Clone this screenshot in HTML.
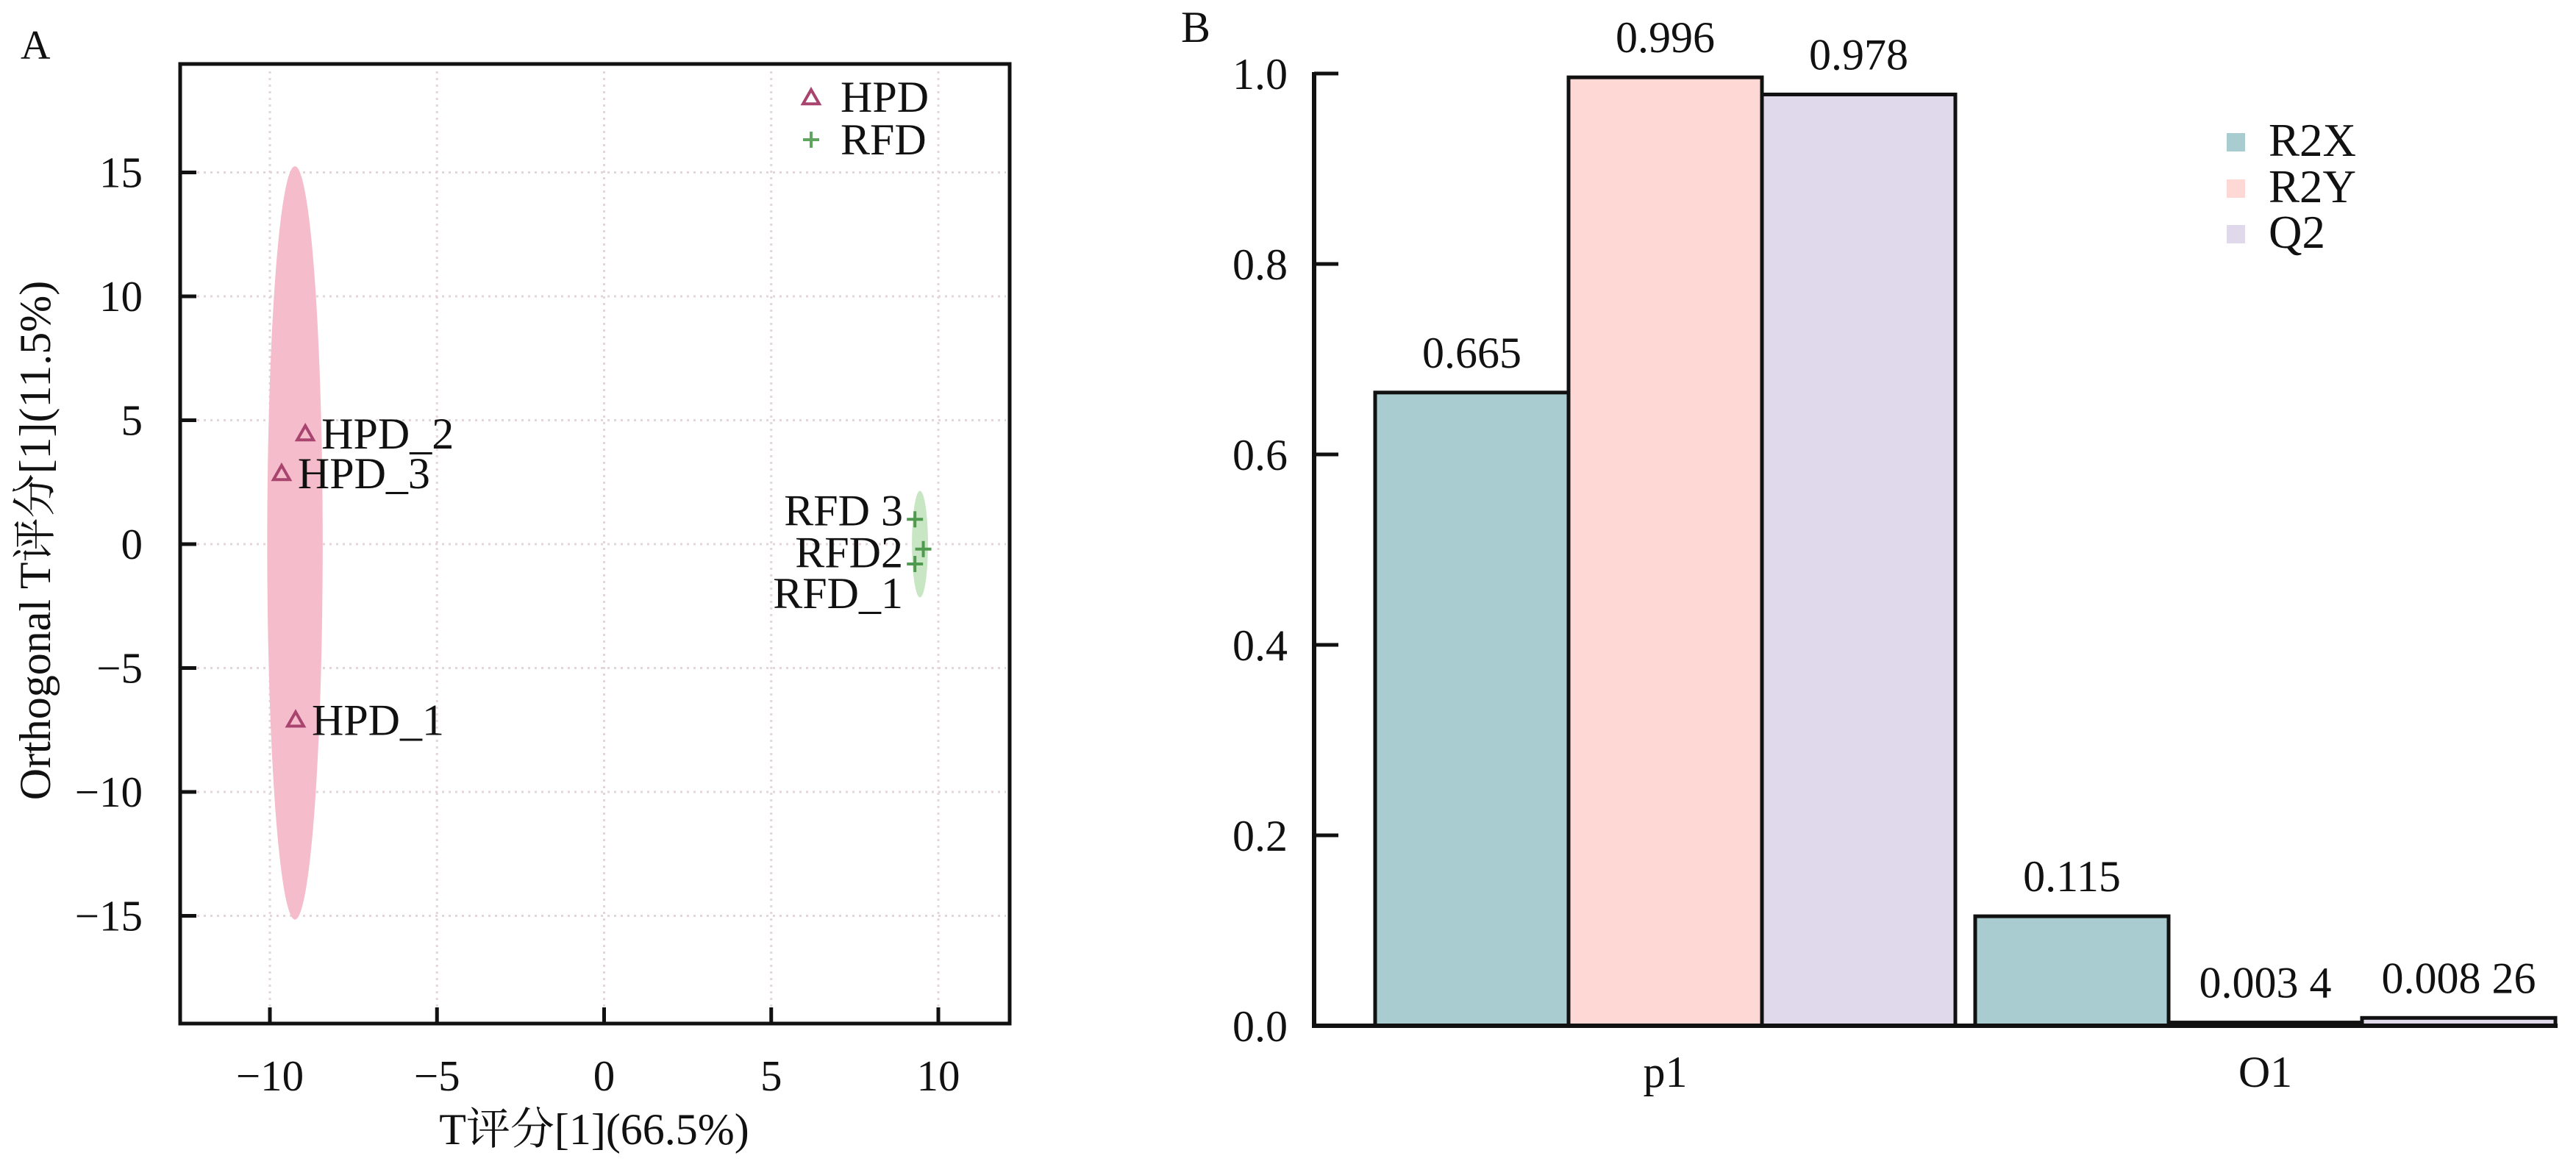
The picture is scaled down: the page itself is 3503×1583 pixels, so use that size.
<!DOCTYPE html>
<html><head><meta charset="utf-8"><style>
html,body{margin:0;padding:0;background:#fff;}
svg{display:block;font-family:"Liberation Serif","Noto Serif CJK SC","Noto Sans CJK SC",serif;}
</style></head><body>
<svg id="fig" width="3503" height="1583" viewBox="0 0 3503 1583" xmlns="http://www.w3.org/2000/svg">
<g id="panelA"></g>
<g id="panelB"></g>
</svg>
<script>
// ---------- Panel A data ----------
const aXTicks = [-10, -5, 0, 5, 10];
const aYTicks = [15, 10, 5, 0, -5, -10, -15];
const hpdNames = ["HPD_2", "HPD_3", "HPD_1"];
const hpdX = [-8.94, -9.65, -9.23];
const hpdY = [4.45, 2.85, -7.1];
const rfdNames = ["RFD 3", "RFD2", "RFD_1"];
const rfdX = [9.3, 9.55, 9.3];
const rfdY = [1.0, -0.2, -0.8];
const hpdEllipse = [-9.25, 0.05, 0.83, 15.2]; // cx, cy, rx, ry (data units)
const rfdEllipse = [9.45, 0.0, 0.24, 2.15];

// ---------- Panel B data ----------
const bCategories = ["p1", "O1"];
const bSeries = ["R2X", "R2Y", "Q2"];
const r2xValues = [0.665, 0.115];
const r2yValues = [0.996, 0.0034];
const q2Values = [0.978, 0.00826];
const bValueLabels = [["0.665", "0.996", "0.978"], ["0.115", "0.003 4", "0.008 26"]];
const bYTicks = [0.0, 0.2, 0.4, 0.6, 0.8, 1.0];
const bYTickLabels = ["0.0", "0.2", "0.4", "0.6", "0.8", "1.0"];

const NS = "http://www.w3.org/2000/svg";
function mk(parent, tag, attrs, text) {
  const e = document.createElementNS(NS, tag);
  for (const k in attrs) e.setAttribute(k, attrs[k]);
  if (text !== undefined) e.textContent = text;
  parent.appendChild(e);
  return e;
}

// ===== Panel A =====
const A = document.getElementById("panelA");
const ax = v => 821.5 + v * 45.45;
const ay = v => 740 - v * 33.7;
const boxL = 245, boxR = 1373, boxT = 87, boxB = 1392;

let t = mk(A, "text", {x: 28, y: 80, "font-size": 56, fill: "#111"}, "A");



// grid
aXTicks.forEach(v => {
  const g = mk(A, "line", {x1: ax(v), x2: ax(v), y1: boxT + 10, y2: boxB - 5, stroke: "#e4d6d8", "stroke-width": 3, "stroke-dasharray": "3 6"});
  
  
});
aYTicks.forEach(v => {
  const g = mk(A, "line", {x1: boxL + 5, x2: boxR - 5, y1: ay(v), y2: ay(v), stroke: "#e4d6d8", "stroke-width": 3, "stroke-dasharray": "3 6"});
  
  
});

// ellipses
let el = mk(A, "ellipse", {cx: ax(hpdEllipse[0]), cy: ay(hpdEllipse[1]), rx: hpdEllipse[2] * 45.45, ry: hpdEllipse[3] * 33.7, fill: "#f5bccb"});


el = mk(A, "ellipse", {cx: ax(rfdEllipse[0]), cy: ay(rfdEllipse[1]), rx: rfdEllipse[2] * 45.45, ry: rfdEllipse[3] * 33.7, fill: "#c8e6c4"});



// box + ticks
let box = mk(A, "rect", {x: boxL, y: boxT, width: boxR - boxL, height: boxB - boxT, fill: "none", stroke: "#111", "stroke-width": 5});


aXTicks.forEach(v => {
  const tk = mk(A, "line", {x1: ax(v), x2: ax(v), y1: boxB, y2: boxB - 22, stroke: "#111", "stroke-width": 5});
  
  
  const lb = mk(A, "text", {x: ax(v), y: 1483, "font-size": 59, "text-anchor": "middle", fill: "#111"}, v < 0 ? "\u2212" + Math.abs(v) : String(v));
  
  
});
aYTicks.forEach(v => {
  const tk = mk(A, "line", {x1: boxL, x2: boxL + 22, y1: ay(v), y2: ay(v), stroke: "#111", "stroke-width": 5});
  
  
  const lb = mk(A, "text", {x: 194, y: ay(v) + 20, "font-size": 59, "text-anchor": "end", fill: "#111"}, v < 0 ? "\u2212" + Math.abs(v) : String(v));
  
  
});

// axis titles
t = mk(A, "text", {x: 808, y: 1556, "font-size": 60, "text-anchor": "middle", fill: "#111"}, "T评分[1](66.5%)");


t = mk(A, "text", {x: 0, y: 0, "font-size": 60, "text-anchor": "middle", fill: "#111", transform: "translate(68,735) rotate(-90)"}, "Orthogonal T评分[1](11.5%)");



// points
function tri(cx, cy) {
  const s = 11;
  return `${cx},${cy - s} ${cx - s},${cy + s * 0.75} ${cx + s},${cy + s * 0.75}`;
}
hpdX.forEach((v, i) => {
  const p = mk(A, "polygon", {points: tri(ax(v), ay(hpdY[i])), fill: "none", stroke: "#a8446e", "stroke-width": 4});
  
  
  const lb = mk(A, "text", {x: ax(v) + 22, y: ay(hpdY[i]) + 20, "font-size": 60, fill: "#111"}, hpdNames[i]);
  
  
});
const rfdLabelDy = [8, 25, 60];
rfdX.forEach((v, i) => {
  const cx = ax(v), cy = ay(rfdY[i]);
  const p = mk(A, "path", {d: `M${cx - 11},${cy}H${cx + 11}M${cx},${cy - 11}V${cy + 11}`, stroke: "#4f9a4f", "stroke-width": 4, fill: "none"});
  
  
  const lb = mk(A, "text", {x: 1228, y: cy + rfdLabelDy[i], "font-size": 60, "text-anchor": "end", fill: "#111"}, rfdNames[i]);
  
  
});

// legend A
let lg = mk(A, "polygon", {points: tri(1103, 133), fill: "none", stroke: "#a8446e", "stroke-width": 4});


lg = mk(A, "text", {x: 1143, y: 152, "font-size": 60, fill: "#111"}, "HPD");


lg = mk(A, "path", {d: "M1092,190H1114M1103,179V201", stroke: "#5fa55f", "stroke-width": 4, fill: "none"});


lg = mk(A, "text", {x: 1143, y: 210, "font-size": 60, fill: "#111"}, "RFD");



// ===== Panel B =====
const B = document.getElementById("panelB");
const by = v => 1395 - v * 1295;
const axisX = 1787;
const groupStart = [1870, 2686];
const barW = 263;
const colors = ["#a9ccd1", "#fdd8d4", "#e0d9eb"];
const seriesValues = [r2xValues, r2yValues, q2Values];

t = mk(B, "text", {x: 1606, y: 57, "font-size": 60, fill: "#111"}, "B");



bCategories.forEach((c, ci) => {
  seriesValues.forEach((vals, si) => {
    const x = groupStart[ci] + si * barW;
    const y = by(vals[ci]);
    const r = mk(B, "rect", {x: x, y: y, width: barW, height: Math.max(1395 - y, 0), fill: colors[si], stroke: "#111", "stroke-width": 5});
    
    
    const lb = mk(B, "text", {x: x + barW / 2, y: y - 34, "font-size": 60, "text-anchor": "middle", fill: "#111", "textLength": null}, bValueLabels[ci][si]);
    lb.removeAttribute("textLength");
    
    
  });
  const cl = mk(B, "text", {x: groupStart[ci] + barW * 1.5, y: 1478, "font-size": 60, "text-anchor": "middle", fill: "#111"}, c);
  
  
});

let axl = mk(B, "line", {x1: axisX, x2: axisX, y1: by(1.0) - 2, y2: 1397, stroke: "#111", "stroke-width": 6});


axl = mk(B, "line", {x1: axisX - 3, x2: 3478, y1: 1395, y2: 1395, stroke: "#111", "stroke-width": 6});


bYTicks.forEach((v, i) => {
  const tk = mk(B, "line", {x1: axisX, x2: axisX + 33, y1: by(v), y2: by(v), stroke: "#111", "stroke-width": 5});
  
  
  const lb = mk(B, "text", {x: 1751, y: by(v) + 21, "font-size": 60, "text-anchor": "end", fill: "#111"}, bYTickLabels[i]);
  
  
});

// legend B
const legY = [193, 256, 318];
bSeries.forEach((s, i) => {
  const sq = mk(B, "rect", {x: 3028, y: legY[i] - 12, width: 25, height: 25, fill: colors[i]});
  
  
  const lb = mk(B, "text", {x: 3085, y: legY[i] + 19, "font-size": 63, fill: "#111"}, s);
  
  
});
</script>
</body></html>
